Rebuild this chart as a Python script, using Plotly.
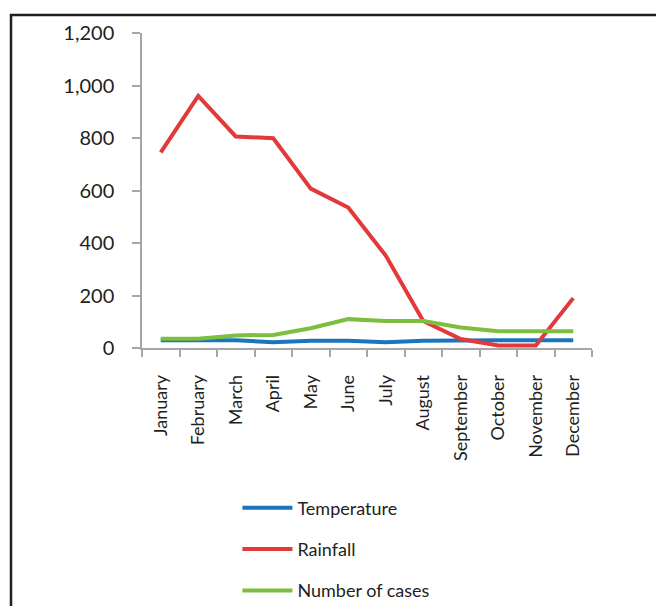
import plotly.graph_objects as go

months = ["January", "February", "March", "April", "May", "June", "July",
          "August", "September", "October", "November", "December"]
temperature = [30, 30, 30, 22, 28, 28, 22, 28, 30, 30, 30, 30]
rainfall = [745, 960, 806, 799, 607, 535, 352, 103, 34, 10, 10, 190]
cases = [35, 35, 48, 50, 75, 110, 103, 103, 78, 64, 64, 64]
y_ticks = [0, 200, 400, 600, 800, 1000, 1200]

FONT = "Liberation Sans Narrow, Lato, sans-serif"

fig = go.Figure()
fig.add_trace(go.Scatter(x=months, y=temperature, name="Temperature", mode="lines",
                         line=dict(color="#1c74bd", width=4), legendgroup="a"))
fig.add_trace(go.Scatter(x=months, y=rainfall, name="Rainfall", mode="lines",
                         line=dict(color="#e2393b", width=4), legendgroup="b"))
fig.add_trace(go.Scatter(x=months, y=cases, name="Number of cases", mode="lines",
                         line=dict(color="#7dbe3e", width=4), legendgroup="c"))

fig.update_layout(
    width=664, height=606,
    margin=dict(l=134, r=80, t=25, b=266, autoexpand=False),
    paper_bgcolor="white", plot_bgcolor="white",
    font=dict(family=FONT, color="#231f20", size=18),
    showlegend=True,
    legend=dict(x=0.212, xanchor="left", y=-0.449, yanchor="top",
                orientation="v", font=dict(size=18, family=FONT, color="#231f20"),
                tracegroupgap=15, itemwidth=50, bgcolor="rgba(0,0,0,0)"),
    shapes=[dict(type="rect", xref="paper", yref="paper",
                 x0=-131 / 450, x1=1.3, y0=-2.0, y1=1 + 18 / 315,
                 line=dict(color="#231f20", width=2.5), fillcolor="rgba(0,0,0,0)",
                 layer="below")],
)
fig.update_xaxes(
    type="category", range=[-0.5, len(months) - 0.5],
    showline=True, linecolor="#a6a6a6", linewidth=1.5,
    ticks="outside", tickson="boundaries", ticklen=7, tickcolor="#a6a6a6",
    tickwidth=1.5, tickangle=-90, showgrid=False, zeroline=False,
    ticklabelstandoff=18,
    tickfont=dict(size=18, family=FONT, color="#231f20"),
)
fig.update_yaxes(
    range=[0, 1200], tickvals=y_ticks, tickformat=",", showline=True,
    linecolor="#a6a6a6", linewidth=1.5, ticks="outside", ticklen=8,
    tickcolor="#a6a6a6", tickwidth=1.5, showgrid=False, zeroline=False,
    ticklabelstandoff=14,
    tickfont=dict(size=20, family=FONT, color="#231f20"),
)
fig.write_html("out.html")
